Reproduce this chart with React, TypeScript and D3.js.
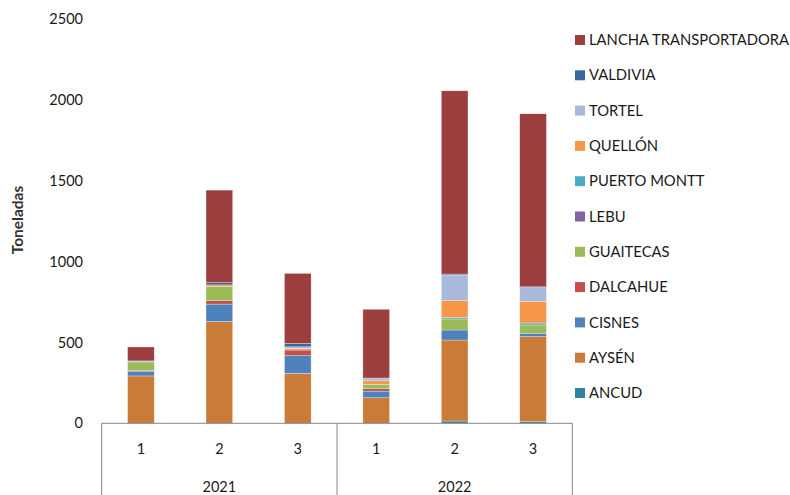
import React from "react";
import * as d3 from "d3";

const periods = ["1", "2", "3", "1", "2", "3"];
const years = ["2021", "2022"];
const seriesNames = [
  "ANCUD",
  "AYSÉN",
  "CISNES",
  "DALCAHUE",
  "GUAITECAS",
  "LEBU",
  "PUERTO MONTT",
  "QUELLÓN",
  "TORTEL",
  "VALDIVIA",
  "LANCHA TRANSPORTADORA",
];
const ancud = [0, 0, 0, 0, 14, 12];
const aysen = [293, 629, 309, 158, 501, 524];
const cisnes = [29, 108, 109, 41, 62, 21];
const dalcahue = [6, 22, 35, 17, 0, 0];
const guaitecas = [51, 87, 0, 25, 68, 51];
const lebu = [0, 0, 0, 0, 0, 0];
const puertoMontt = [0, 0, 0, 0, 10, 12];
const quellon = [0, 10, 10, 22, 103, 134];
const tortel = [7, 0, 10, 17, 159, 90];
const valdivia = [0, 14, 21, 0, 6, 0];
const lancha = [86, 572, 433, 425, 1133, 1070];
const yTicks = [0, 500, 1000, 1500, 2000, 2500];

const seriesValues = [ancud, aysen, cisnes, dalcahue, guaitecas, lebu, puertoMontt, quellon, tortel, valdivia, lancha];
const colors = [
  "#31849B",
  "#C97B37",
  "#4F81BD",
  "#C0504D",
  "#9BBB59",
  "#8064A2",
  "#4BACC6",
  "#F79646",
  "#A8B9DA",
  "#3B67A0",
  "#9C3E3E",
];

const W = 790;
const H = 495;
const FONT = "Lato, 'Open Sans', sans-serif";

export default function App() {
  const idx = periods.map((_, i) => i);
  const rows = idx.map((i) => {
    const r: Record<string, number> = { i } as any;
    seriesNames.forEach((s, k) => (r[s] = seriesValues[k][i]));
    return r;
  });
  const stack = d3.stack<Record<string, number>>().keys(seriesNames);
  const layers = stack(rows);

  const x = d3.scaleBand<number>().domain(idx).range([101.7, 572.3]).paddingInner(0.66).paddingOuter(0.33);
  const y = d3.scaleLinear().domain([0, 2500]).range([423.3, 19]);
  const bw = x.bandwidth();
  const groupW = (572.3 - 101.7) / years.length;
  const axisColor = "#868686";
  const txt = "#1a1a1a";

  return (
    <div style={{ position: "absolute", left: 0, top: 0 }}>
      <svg width={W} height={H} style={{ display: "block", fontFamily: FONT }}>
        <rect width={W} height={H} fill="#fff" />
        {layers.map((layer, k) => (
          <g key={seriesNames[k]} fill={colors[k]}>
            {layer.map((d, i) =>
              d[1] - d[0] > 0 ? (
                <rect
                  key={i}
                  x={x(i)}
                  y={y(d[1])}
                  width={bw}
                  height={y(d[0]) - y(d[1])}
                  stroke="#fff"
                  strokeOpacity={0.5}
                  strokeWidth={0.6}
                />
              ) : null
            )}
          </g>
        ))}
        {/* y tick labels */}
        {yTicks.map((t) => (
          <text key={t} x={83} y={y(t)} dy="0.35em" textAnchor="end" fontSize={14.5} fill={txt}>
            {t}
          </text>
        ))}
        <text
          transform={`translate(23,220) rotate(-90)`}
          textAnchor="middle"
          fontSize={15.5}
          fontWeight="bold"
          fill="#333"
        >
          Toneladas
        </text>
        {/* x axis */}
        <line x1={101.7} x2={572.3} y1={y(0)} y2={y(0)} stroke={axisColor} strokeWidth={1} />
        {d3.range(years.length + 1).map((g) => (
          <line
            key={g}
            x1={101.7 + g * groupW}
            x2={101.7 + g * groupW}
            y1={y(0)}
            y2={H}
            stroke={axisColor}
            strokeWidth={1}
          />
        ))}
        {idx.map((i) => (
          <text key={i} x={x(i)! + bw / 2} y={449} dy="0.35em" textAnchor="middle" fontSize={14.5} fill={txt}>
            {periods[i]}
          </text>
        ))}
        {years.map((yr, g) => (
          <text
            key={yr}
            x={101.7 + (g + 0.5) * groupW}
            y={487}
            dy="0.35em"
            textAnchor="middle"
            fontSize={14.5}
            fill={txt}
          >
            {yr}
          </text>
        ))}
        {/* legend */}
        {seriesNames
          .map((s, k) => ({ s, k }))
          .reverse()
          .map(({ s, k }, j) => (
            <g key={s} transform={`translate(575,${40 + j * 35.3})`}>
              <rect x={0} y={-5} width={10} height={10} fill={colors[k]} />
              <text x={14} y={0} dy="0.35em" fontSize={14.8} fill={txt}>
                {s}
              </text>
            </g>
          ))}
      </svg>
    </div>
  );
}
